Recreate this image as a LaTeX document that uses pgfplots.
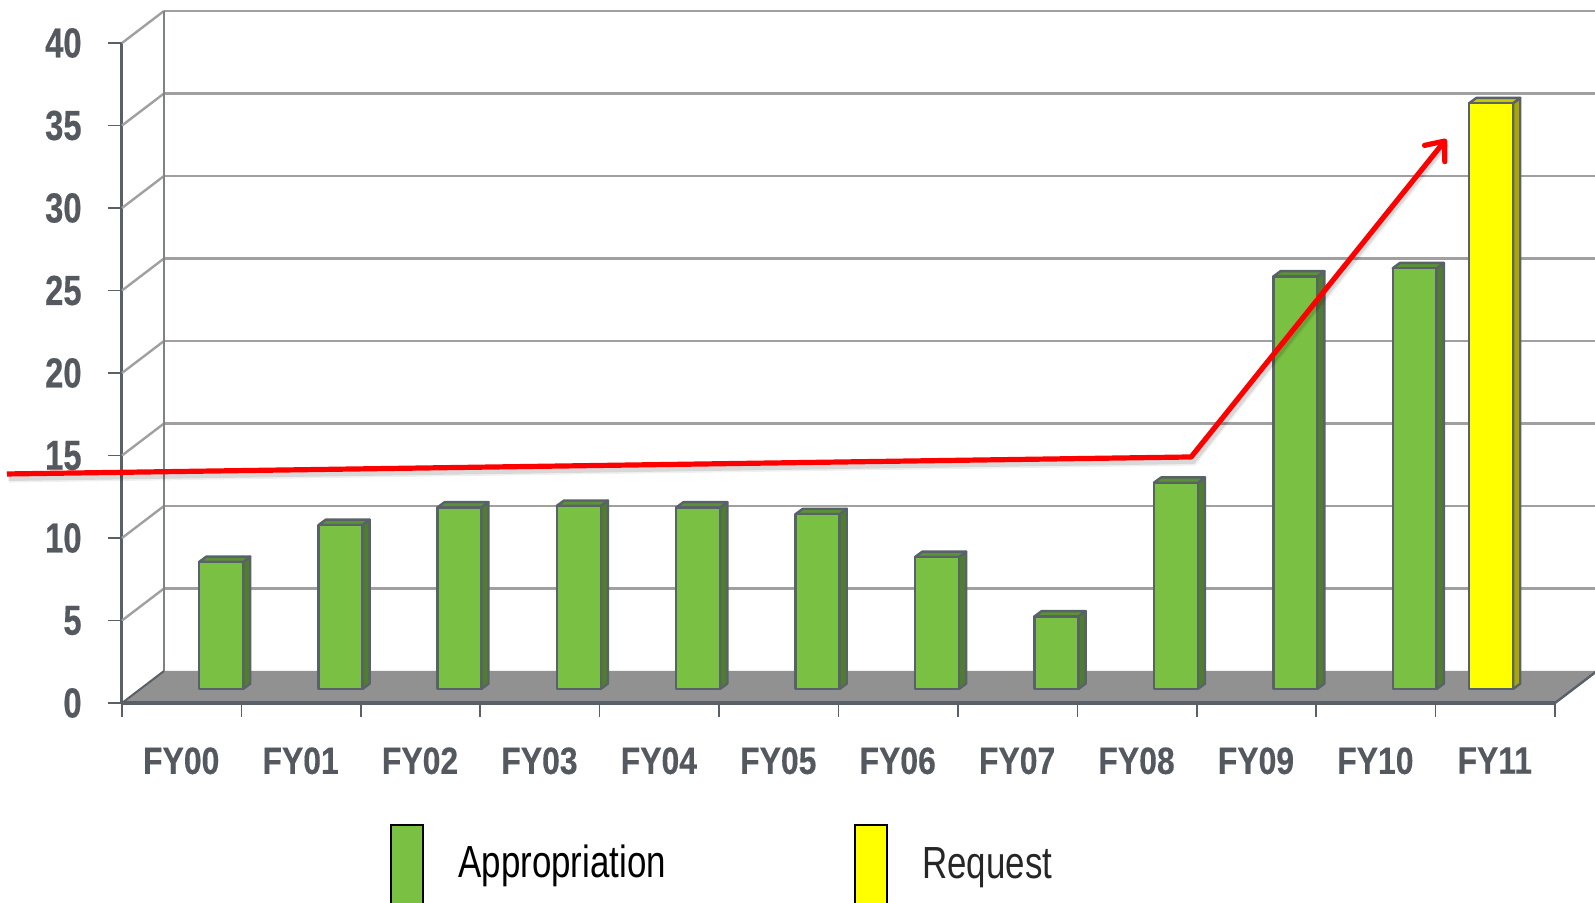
\documentclass[border=0pt]{standalone}
\usepackage{fontspec}
\setmainfont{Liberation Sans}
\newfontfamily\tickfont[FakeStretch=0.78,FakeBold=0.4]{Liberation Sans}
\newfontfamily\catfont[FakeStretch=0.84,FakeBold=0.3]{Liberation Sans}
\newfontfamily\legfont[FakeStretch=0.775]{Liberation Sans}
\usepackage{pgfplots}
\pgfplotsset{compat=1.18}
\usetikzlibrary{arrows.meta}
\definecolor{axgray}{HTML}{5A6067}
\definecolor{wallgray}{HTML}{7F8387}
\definecolor{gridgray}{HTML}{A0A0A0}
\definecolor{floorgray}{HTML}{919191}
\definecolor{txtgray}{HTML}{545960}
\definecolor{bedge}{HTML}{596268}
\definecolor{gfront}{HTML}{7AC143}
\definecolor{gside}{HTML}{4F7F2D}
\definecolor{gtop}{HTML}{5B9234}
\definecolor{yfront}{HTML}{FFFF00}
\definecolor{yside}{HTML}{A8A800}
\definecolor{ytop}{HTML}{C8C800}
\newcommand\tdbar[5]{%
  \pgfmathsetmacro\xa{#1-0.184}%
  \pgfmathsetmacro\xb{#1+0.184}%
  \pgfmathsetmacro\xc{#1+0.244}%
  \pgfmathsetmacro\xd{#1-0.124}%
  \pgfmathsetmacro\yt{0.85+#2}%
  \pgfmathsetmacro\yu{0.85+#2+0.32}%
  \edef\tmp{\noexpand\addplot[fill=#4,draw=bedge,line width=1.2pt,line join=round] coordinates {(\xb,0.85)(\xc,1.17)(\xc,\yu)(\xb,\yt)} -- cycle;%
  \noexpand\addplot[fill=#5,draw=bedge,line width=1.2pt,line join=round] coordinates {(\xa,\yt)(\xb,\yt)(\xc,\yu)(\xd,\yu)} -- cycle;%
  \noexpand\addplot[fill=#3,draw=bedge,line width=1.2pt,line join=round] coordinates {(\xa,0.85)(\xb,0.85)(\xb,\yt)(\xa,\yt)} -- cycle;}%
  \tmp}
\begin{document}
\begin{tikzpicture}[x=1pt,y=1pt]
\path[use as bounding box,clip] (0,0) rectangle (797.5,451.5);
\begin{axis}[
  at={(61pt,100pt)},anchor=south west,
  scale only axis,width=716.5pt,height=330pt,
  xmin=0,xmax=12,ymin=0,ymax=40,clip=false,
  axis x line*=bottom,axis y line*=left,
  axis line style={-,draw=axgray,line width=1.5pt},
  xtick={0,...,12},
  xticklabels={FY00,FY01,FY02,FY03,FY04,FY05,FY06,FY07,FY08,FY09,FY10,FY11,{}},
  ytick={0,5,...,40},
  tick align=outside,major tick length=7pt,
  tick style={draw=axgray,line width=0.8pt},
  /pgf/number format/assume math mode=true,
  xticklabel style={font=\catfont\bfseries\fontsize{19}{19}\selectfont,text=txtgray,anchor=north,inner sep=0pt,xshift=29.6pt,yshift=-15pt},
  yticklabel style={font=\tickfont\bfseries\fontsize{21}{21}\selectfont,text=txtgray,anchor=east,inner sep=0pt,xshift=-13pt},
]
% back wall grid
\pgfplotsinvokeforeach{5,10,...,40}{
  \draw[gridgray,line width=1.4pt] (axis cs:0.352,#1+1.94) -- (axis cs:12.5,#1+1.94);
  \draw[gridgray,line width=1.2pt] (axis cs:0,#1) -- (axis cs:0.352,#1+1.94);
}
\draw[wallgray,line width=1.4pt] (axis cs:0.352,1.94) -- (axis cs:0.352,41.94);
% floor
\addplot[fill=floorgray,draw=none] coordinates {(0,0)(0.352,1.94)(12.352,1.94)(12,0)} -- cycle;
\draw[axgray,line width=1.2pt] (axis cs:12,0) -- (axis cs:12.352,1.94);
\draw[axgray,line width=1pt] (axis cs:0,0) -- (axis cs:0.352,1.94);
\draw[axgray,line width=1.7pt] (axis cs:0,0) -- (axis cs:12,0);
% bars
\tdbar{0.83}{7.7}{gfront}{gside}{gtop}
\tdbar{1.83}{9.94}{gfront}{gside}{gtop}
\tdbar{2.825}{11.0}{gfront}{gside}{gtop}
\tdbar{3.825}{11.1}{gfront}{gside}{gtop}
\tdbar{4.825}{11.0}{gfront}{gside}{gtop}
\tdbar{5.825}{10.6}{gfront}{gside}{gtop}
\tdbar{6.825}{8.0}{gfront}{gside}{gtop}
\tdbar{7.825}{4.4}{gfront}{gside}{gtop}
\tdbar{8.825}{12.5}{gfront}{gside}{gtop}
\tdbar{9.825}{25.0}{gfront}{gside}{gtop}
\tdbar{10.825}{25.5}{gfront}{gside}{gtop}
\tdbar{11.465}{35.5}{yfront}{yside}{ytop}
\end{axis}
\begin{axis}[
  at={(61pt,100pt)},anchor=south west,
  scale only axis,width=716.5pt,height=330pt,
  xmin=0,xmax=12,ymin=0,ymax=40,clip=false,hide axis,
]
% red arrow with shadow
\addplot[black,opacity=0.06,line width=4pt] coordinates {(-0.95,13.6)(8.97,14.63)(11.09,33.9)};
\addplot[black,opacity=0.10,line width=2.4pt] coordinates {(-0.95,13.6)(8.97,14.63)(11.09,33.9)};
\addplot[red,line width=2.6pt,line join=round,-{Straight Barb[length=8pt,width=13pt,round]}] coordinates {(-0.963,13.88)(8.953,14.91)(11.09,34.18)};
\end{axis}
% legend
\draw[black,line width=1.2pt,fill=gfront] (195.5,-5) rectangle (211.5,39);
\draw[black,line width=1.2pt,fill=yfront] (427.5,-5) rectangle (443.5,39);
\node[anchor=base west,inner sep=0pt] at (229,12.5) {\legfont\fontsize{22.5}{22.5}\selectfont Appropriation};
\node[anchor=base west,inner sep=0pt,text=black!85] at (461,12) {\legfont\fontsize{22.5}{22.5}\selectfont Request};
\end{tikzpicture}
\end{document}
